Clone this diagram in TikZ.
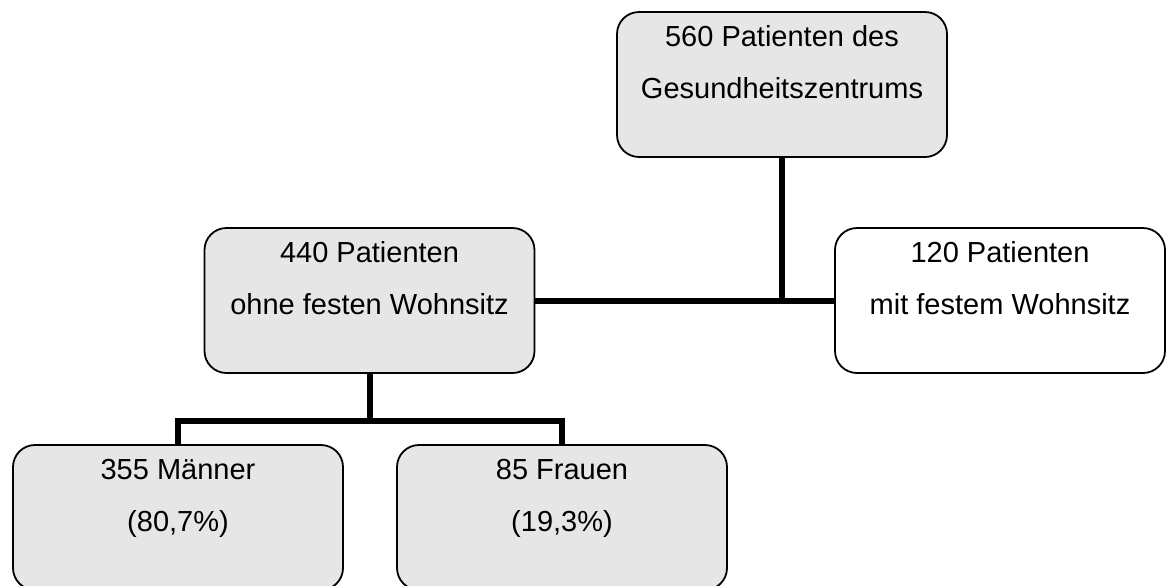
\documentclass[tikz,border=0pt]{standalone}
\usepackage{fontspec}
\setmainfont{Liberation Sans}
\usepackage{xcolor}
\usetikzlibrary{positioning, calc}
\definecolor{boxgray}{RGB}{230,230,230}

\begin{document}
\begin{tikzpicture}[x=0.5pt, y=-0.5pt,
    box/.style={rectangle, draw=black, fill=boxgray, line width=0.9pt, rounded corners=11pt,
      minimum width=165pt, inner xsep=0pt, inner ysep=0pt, align=center,
      text height=43pt, text depth=29.5pt, font=\fontsize{14.5}{26}\selectfont},
    openbox/.style={box, fill=white},
    link/.style={line width=3pt, black}
]
    \useasboundingbox (0,0) rectangle (1173,585);

    % Gesamt
    \node[box] (total) at (782,84.5) {560 Patienten des\\Gesundheitszentrums};

    % Wohnsitz
    \node[box] (ohne) at (369.5,300.5) {440 Patienten\\ohne festen Wohnsitz};
    \node[openbox] (mit) at (1000,300.5) {120 Patienten\\mit festem Wohnsitz};

    % Geschlecht
    \node[box] (maenner) at (178,517.5) {355 M\"anner\\(80,7\%)};
    \node[box] (frauen) at (562,517.5) {85 Frauen\\(19,3\%)};

    % Verbindungen
    \coordinate (split) at ($(ohne.south)+(0,47)$);
    \draw[link] (ohne.east) -- (mit.west);
    \draw[link] (total.south) -- (total.south |- ohne.east);
    \draw[link] (ohne.south) -- (split);
    \draw[link] (maenner.north) |- (split) -| (frauen.north);

\end{tikzpicture}
\end{document}
